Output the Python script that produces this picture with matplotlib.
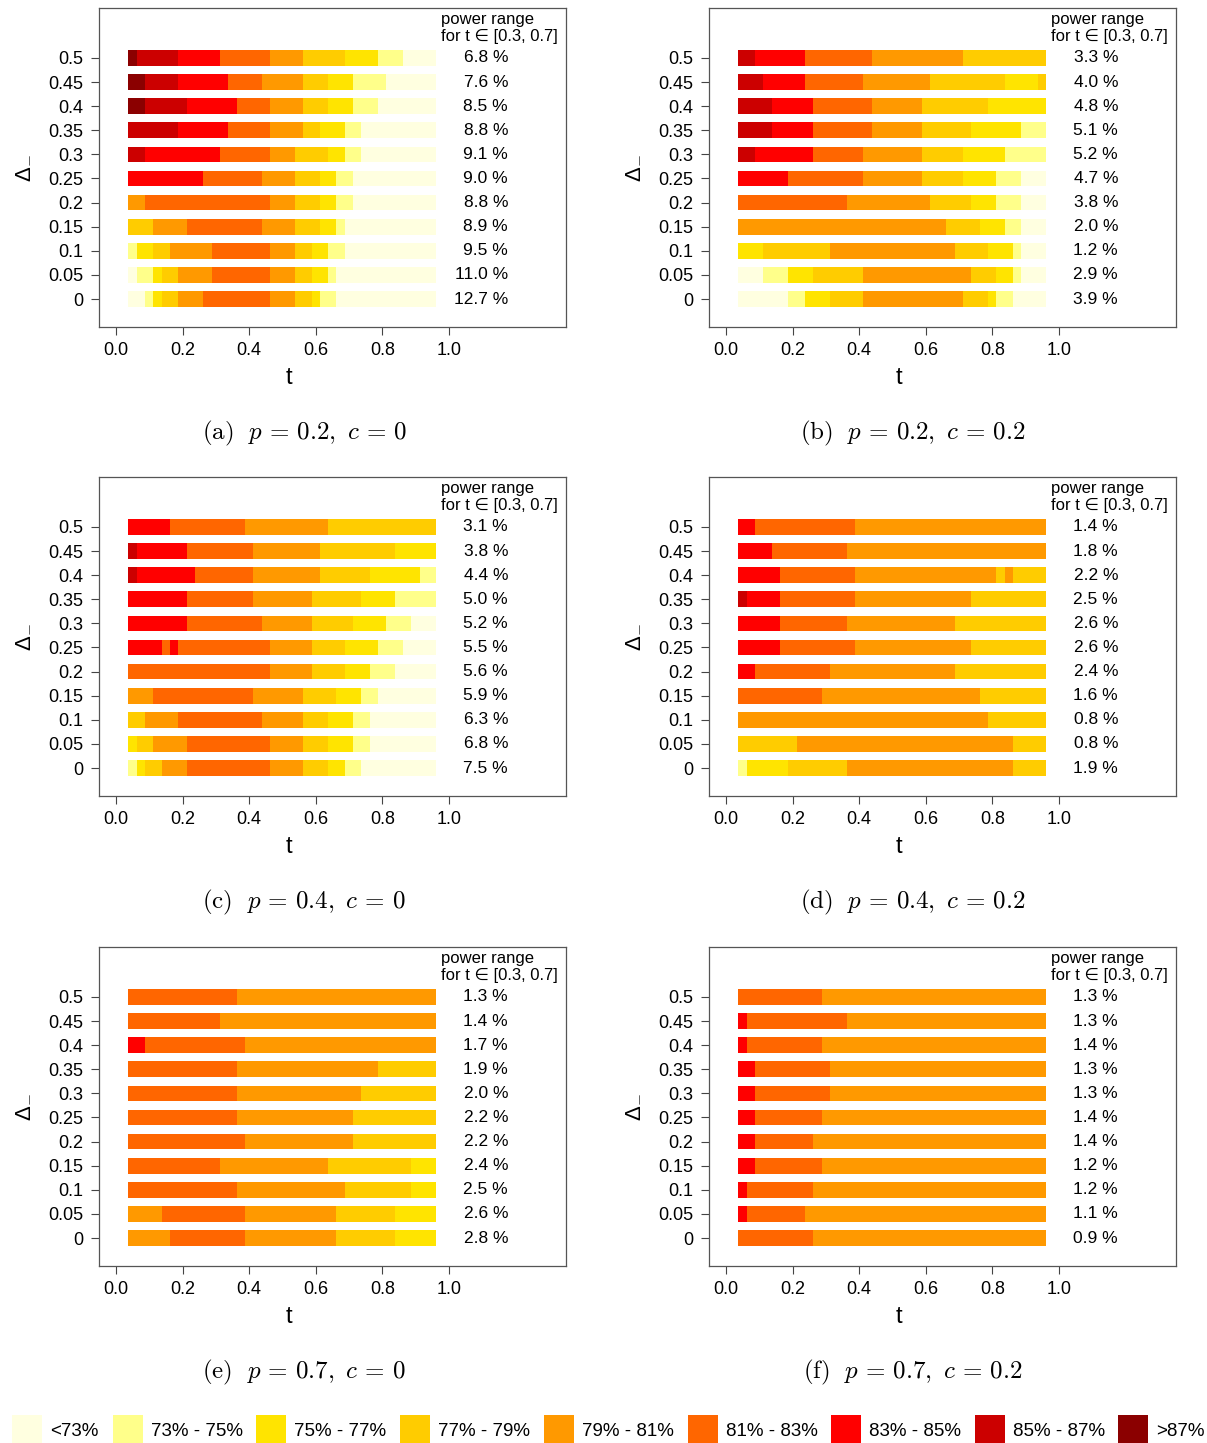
import numpy as np
import matplotlib
matplotlib.use('Agg')
import matplotlib.pyplot as plt
from matplotlib.patches import Rectangle

plt.rcParams['font.family'] = ['Liberation Sans', 'DejaVu Sans']
plt.rcParams['mathtext.fontset'] = 'cm'

# power classes (lowest to highest) and their colours
class_labels = ['<73%', '73% - 75%', '75% - 77%', '77% - 79%', '79% - 81%',
                '81% - 83%', '83% - 85%', '85% - 87%', '>87%']
class_colors = ['#FFFFE0', '#FFFF8A', '#FFE400', '#FFCC00', '#FF9900',
                '#FF6600', '#FF0000', '#CC0000', '#8B0000']

# t grid: cells centred on 0.05, 0.075, ..., 0.95
t_values = np.round(np.arange(0.05, 0.951, 0.025), 3)
t_step = 0.025

delta_labels = ['0', '0.05', '0.1', '0.15', '0.2', '0.25', '0.3', '0.35', '0.4', '0.45', '0.5']

# each row: runs of (class, end cell index); rows listed from delta=0.5 down to 0
runs_a = [
    [(8, 1), (7, 6), (6, 11), (5, 17), (4, 21), (3, 26), (2, 30), (1, 33), (0, 37)],
    [(8, 2), (7, 6), (6, 12), (5, 16), (4, 21), (3, 24), (2, 27), (1, 31), (0, 37)],
    [(8, 2), (7, 7), (6, 13), (5, 17), (4, 21), (3, 24), (2, 27), (1, 30), (0, 37)],
    [(7, 6), (6, 12), (5, 17), (4, 21), (3, 23), (2, 26), (1, 28), (0, 37)],
    [(7, 2), (6, 11), (5, 17), (4, 20), (3, 24), (2, 26), (1, 28), (0, 37)],
    [(6, 9), (5, 16), (4, 20), (3, 23), (2, 25), (1, 27), (0, 37)],
    [(4, 2), (5, 17), (4, 20), (3, 23), (2, 25), (1, 27), (0, 37)],
    [(3, 3), (4, 7), (5, 16), (4, 20), (3, 23), (2, 25), (1, 26), (0, 37)],
    [(1, 1), (2, 3), (3, 5), (4, 10), (5, 17), (4, 20), (3, 22), (2, 24), (1, 26), (0, 37)],
    [(0, 1), (1, 3), (2, 4), (3, 6), (4, 10), (5, 17), (4, 20), (3, 22), (2, 24), (1, 25), (0, 37)],
    [(0, 2), (1, 3), (2, 4), (3, 6), (4, 9), (5, 17), (4, 20), (3, 22), (2, 23), (1, 25), (0, 37)],
]
runs_b = [
    [(7, 2), (6, 8), (5, 16), (4, 27), (3, 37)],
    [(7, 3), (6, 8), (5, 15), (4, 23), (3, 32), (2, 36), (3, 37)],
    [(7, 4), (6, 9), (5, 16), (4, 22), (3, 30), (2, 37)],
    [(7, 4), (6, 9), (5, 16), (4, 22), (3, 28), (2, 34), (1, 37)],
    [(7, 2), (6, 9), (5, 15), (4, 22), (3, 27), (2, 32), (1, 37)],
    [(6, 6), (5, 15), (4, 22), (3, 27), (2, 31), (1, 34), (0, 37)],
    [(5, 13), (4, 23), (3, 28), (2, 31), (1, 34), (0, 37)],
    [(4, 25), (3, 29), (2, 32), (1, 34), (0, 37)],
    [(2, 3), (3, 11), (4, 26), (3, 30), (2, 33), (1, 34), (0, 37)],
    [(0, 3), (1, 6), (2, 9), (3, 15), (4, 28), (3, 31), (2, 33), (1, 34), (0, 37)],
    [(0, 6), (1, 8), (2, 11), (3, 15), (4, 27), (3, 30), (2, 31), (1, 33), (0, 37)],
]
runs_c = [
    [(6, 5), (5, 14), (4, 24), (3, 37)],
    [(7, 1), (6, 7), (5, 15), (4, 23), (3, 32), (2, 37)],
    [(7, 1), (6, 8), (5, 15), (4, 23), (3, 29), (2, 35), (1, 37)],
    [(6, 7), (5, 15), (4, 22), (3, 28), (2, 32), (1, 37)],
    [(6, 7), (5, 16), (4, 22), (3, 27), (2, 31), (1, 34), (0, 37)],
    [(6, 4), (5, 5), (6, 6), (5, 17), (4, 22), (3, 26), (2, 30), (1, 33), (0, 37)],
    [(5, 17), (4, 22), (3, 26), (2, 29), (1, 32), (0, 37)],
    [(4, 3), (5, 15), (4, 21), (3, 25), (2, 28), (1, 30), (0, 37)],
    [(3, 2), (4, 6), (5, 16), (4, 21), (3, 24), (2, 27), (1, 29), (0, 37)],
    [(2, 1), (3, 3), (4, 7), (5, 17), (4, 21), (3, 24), (2, 27), (1, 29), (0, 37)],
    [(1, 1), (2, 2), (3, 4), (4, 7), (5, 17), (4, 21), (3, 24), (2, 26), (1, 28), (0, 37)],
]
runs_d = [
    [(6, 2), (5, 14), (4, 37)],
    [(6, 4), (5, 13), (4, 37)],
    [(6, 5), (5, 14), (4, 31), (3, 32), (4, 33), (3, 37)],
    [(7, 1), (6, 5), (5, 14), (4, 28), (3, 37)],
    [(6, 5), (5, 13), (4, 26), (3, 37)],
    [(6, 5), (5, 14), (4, 28), (3, 37)],
    [(6, 2), (5, 11), (4, 26), (3, 37)],
    [(5, 10), (4, 29), (3, 37)],
    [(4, 30), (3, 37)],
    [(3, 7), (4, 33), (3, 37)],
    [(1, 1), (2, 6), (3, 13), (4, 33), (3, 37)],
]
runs_e = [
    [(5, 13), (4, 37)],
    [(5, 11), (4, 37)],
    [(6, 2), (5, 14), (4, 37)],
    [(5, 13), (4, 30), (3, 37)],
    [(5, 13), (4, 28), (3, 37)],
    [(5, 13), (4, 27), (3, 37)],
    [(5, 14), (4, 27), (3, 37)],
    [(5, 11), (4, 24), (3, 34), (2, 37)],
    [(5, 13), (4, 26), (3, 34), (2, 37)],
    [(4, 4), (5, 14), (4, 25), (3, 32), (2, 37)],
    [(4, 5), (5, 14), (4, 25), (3, 32), (2, 37)],
]
runs_f = [
    [(5, 10), (4, 37)],
    [(6, 1), (5, 13), (4, 37)],
    [(6, 1), (5, 10), (4, 37)],
    [(6, 2), (5, 11), (4, 37)],
    [(6, 2), (5, 11), (4, 37)],
    [(6, 2), (5, 10), (4, 37)],
    [(6, 2), (5, 9), (4, 37)],
    [(6, 2), (5, 10), (4, 37)],
    [(6, 1), (5, 9), (4, 37)],
    [(6, 1), (5, 8), (4, 37)],
    [(5, 9), (4, 37)],
]

# power range for t in [0.3, 0.7], delta=0.5 down to 0
range_a = [6.8, 7.6, 8.5, 8.8, 9.1, 9.0, 8.8, 8.9, 9.5, 11.0, 12.7]
range_b = [3.3, 4.0, 4.8, 5.1, 5.2, 4.7, 3.8, 2.0, 1.2, 2.9, 3.9]
range_c = [3.1, 3.8, 4.4, 5.0, 5.2, 5.5, 5.6, 5.9, 6.3, 6.8, 7.5]
range_d = [1.4, 1.8, 2.2, 2.5, 2.6, 2.6, 2.4, 1.6, 0.8, 0.8, 1.9]
range_e = [1.3, 1.4, 1.7, 1.9, 2.0, 2.2, 2.2, 2.4, 2.5, 2.6, 2.8]
range_f = [1.3, 1.3, 1.4, 1.3, 1.3, 1.4, 1.4, 1.2, 1.2, 1.1, 0.9]

captions = [r'$\mathrm{(a)}\ \ p\,=\,0.2,\ c\,=\,0$', r'$\mathrm{(b)}\ \ p\,=\,0.2,\ c\,=\,0.2$',
            r'$\mathrm{(c)}\ \ p\,=\,0.4,\ c\,=\,0$', r'$\mathrm{(d)}\ \ p\,=\,0.4,\ c\,=\,0.2$',
            r'$\mathrm{(e)}\ \ p\,=\,0.7,\ c\,=\,0$', r'$\mathrm{(f)}\ \ p\,=\,0.7,\ c\,=\,0.2$']

panels = [(runs_a, range_a), (runs_b, range_b), (runs_c, range_c),
          (runs_d, range_d), (runs_e, range_e), (runs_f, range_f)]

W, H = 1207, 1443
fig = plt.figure(figsize=(W / 100, H / 100), dpi=100)

lefts = [99, 709]
tops = [8, 477, 947]
caption_x = [304, 913]
caption_y = [433, 902, 1372]
ax_w, ax_h = 467, 319

for k, (runs, ranges) in enumerate(panels):
    col, row = k % 2, k // 2
    ax = fig.add_axes([lefts[col] / W, 1 - (tops[row] + ax_h) / H, ax_w / W, ax_h / H])
    n = len(runs)
    for i, row_runs in enumerate(runs):
        y = n - 1 - i
        start = 0
        for cls, end in row_runs:
            ax.barh(y, (end - start) * t_step, left=t_values[start] - t_step / 2,
                    height=0.65, color=class_colors[cls], linewidth=0)
            start = end
        ax.text(1.178, y, f'{ranges[i]:.1f} %', ha='right', va='center', fontsize=12.5)
    ax.text(0.975, 11.6, 'power range', ha='left', va='center', fontsize=12)
    ax.text(0.975, 10.9, 'for t \u2208 [0.3, 0.7]', ha='left', va='center', fontsize=12)

    ax.set_xlim(-0.051, 1.352)
    ax.set_ylim(-1.16, 12.07)
    ax.set_xticks([0.0, 0.2, 0.4, 0.6, 0.8, 1.0])
    ax.set_xticklabels(['0.0', '0.2', '0.4', '0.6', '0.8', '1.0'])
    ax.set_yticks(range(n))
    ax.set_yticklabels(delta_labels)
    ax.tick_params(axis='both', direction='out', length=6, width=0.8,
                   color='#444444', labelsize=13, pad=5)
    for s in ax.spines.values():
        s.set_color('#555555')
        s.set_linewidth(0.9)
    ax.set_xlabel('t', fontsize=17)
    ax.xaxis.set_label_coords(0.407, -0.125)
    ax.set_ylabel('\u0394$_{-}$', fontsize=16)
    ax.yaxis.set_label_coords(-0.14, 0.5)

    fig.text(caption_x[col] / W, 1 - caption_y[row] / H, captions[k],
             ha='center', va='center', fontsize=18)

# legend strip along the bottom
sq_x = [12, 113, 256, 400, 544, 688, 831, 975, 1118]
for x0, lab, colr in zip(sq_x, class_labels, class_colors):
    fig.patches.append(Rectangle((x0 / W, 1 - 1443 / H), 30 / W, 28 / H,
                                 transform=fig.transFigure, facecolor=colr,
                                 edgecolor='none'))
    fig.text((x0 + 38) / W, 1 - 1431 / H, lab, ha='left', va='center', fontsize=13.5)

fig.savefig('out.png', dpi=100)
